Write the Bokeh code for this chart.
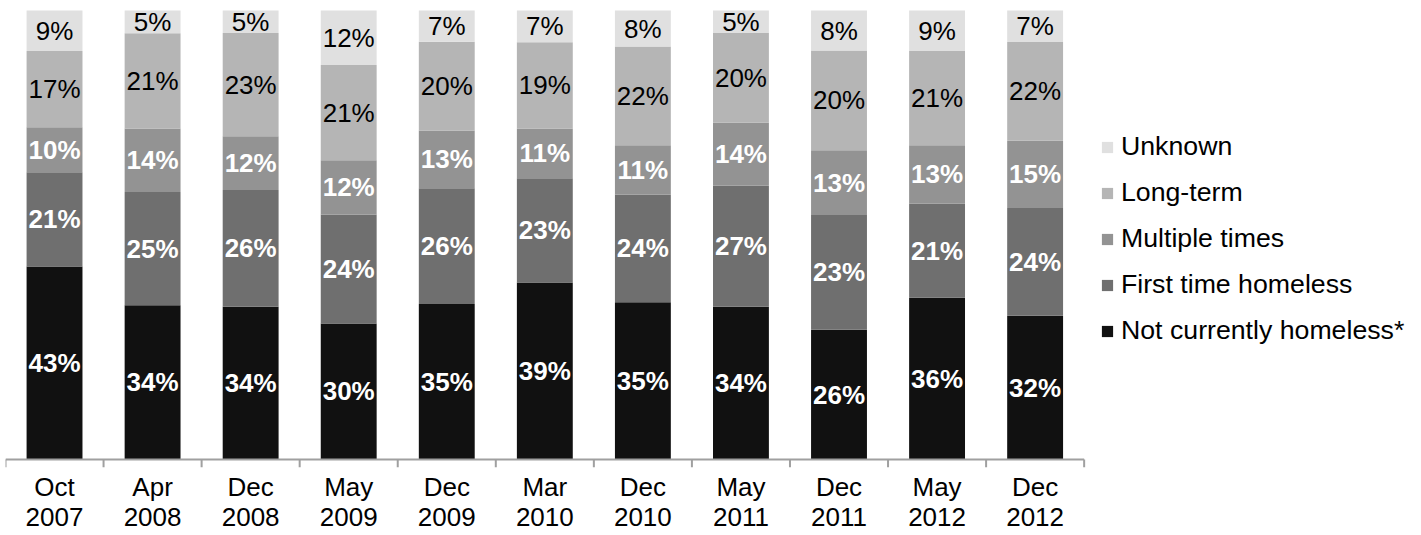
from bokeh.plotting import figure
from bokeh.models import Range1d, Legend, LegendItem, ColumnDataSource, FixedTicker
from bokeh.core.properties import value
from bokeh.embed import file_html
from bokeh.resources import INLINE

categories = ["Oct\n2007", "Apr\n2008", "Dec\n2008", "May\n2009", "Dec\n2009", "Mar\n2010",
              "Dec\n2010", "May\n2011", "Dec\n2011", "May\n2012", "Dec\n2012"]
not_currently = [43, 34, 34, 30, 35, 39, 35, 34, 26, 36, 32]
first_time = [21, 25, 26, 24, 26, 23, 24, 27, 23, 21, 24]
multiple = [10, 14, 12, 12, 13, 11, 11, 14, 13, 13, 15]
long_term = [17, 21, 23, 21, 20, 19, 22, 20, 20, 21, 22]
unknown = [9, 5, 5, 12, 7, 7, 8, 5, 8, 9, 7]

series_names = ["Not currently homeless*", "First time homeless", "Multiple times", "Long-term", "Unknown"]
series = [not_currently, first_time, multiple, long_term, unknown]
colors = ["#111111", "#6f6f6f", "#939393", "#b5b5b5", "#e0e0e0"]
keys = ["s0", "s1", "s2", "s3", "s4"]

FONT = "Liberation Sans"
n = len(categories)
xpos = list(range(n))

# 100% stacked: normalise each bar to its total
totals = [sum(col) for col in zip(*series)]
data = {"x": xpos}
for k, s in zip(keys, series):
    data[k] = [v / t * 100 for v, t in zip(s, totals)]
src = ColumnDataSource(data)

TICK = 1.79
p = figure(width=1420, height=534, output_backend="svg", toolbar_location=None,
           x_range=Range1d(-0.5, 13.93), y_range=Range1d(-TICK, 102.24),
           min_border_left=5, min_border_right=0, min_border_top=0, min_border_bottom=0)
p.outline_line_color = None
p.xgrid.visible = False
p.ygrid.visible = False
p.yaxis.visible = False

renderers = p.vbar_stack(keys, x="x", width=0.57, source=src, color=colors, line_color=None)

# labels
light_x, light_y, light_t = [], [], []
dark_x, dark_y, dark_t = [], [], []
for i in range(n):
    base = 0.0
    for j, k in enumerate(keys):
        h = data[k][i]
        mid = base + h / 2
        base += h
        txt = f"{series[j][i]}%"
        if j < 3:
            light_x.append(xpos[i]); light_y.append(mid); light_t.append(txt)
        else:
            dark_x.append(xpos[i]); dark_y.append(mid); dark_t.append(txt)

p.text(x=light_x, y=light_y, text=light_t, text_color="white", text_font=value(FONT),
       text_font_style="bold", text_font_size="26px", text_align="center", text_baseline="middle")
p.text(x=dark_x, y=dark_y, text=dark_t, text_color="black", text_font=value(FONT),
       text_font_size="26px", text_align="center", text_baseline="middle")

# axis line and boundary ticks between categories
bounds = [i - 0.5 for i in range(n + 1)]
p.segment(x0=[bounds[0]], y0=[0], x1=[bounds[-1]], y1=[0], line_color="#a0a0a0", line_width=2)
p.segment(x0=bounds, y0=[0] * (n + 1), x1=bounds, y1=[-TICK] * (n + 1),
          line_color="#a0a0a0", line_width=2)

ax = p.xaxis[0]
ax.ticker = FixedTicker(ticks=xpos)
ax.major_label_overrides = {x: c for x, c in zip(xpos, categories)}
ax.axis_line_color = None
ax.major_tick_line_color = None
ax.minor_tick_line_color = None
ax.major_tick_out = 0
ax.major_tick_in = 0
ax.major_label_standoff = 4
ax.major_label_text_font = FONT
ax.major_label_text_font_size = "26px"
ax.major_label_text_color = "black"
ax.major_label_text_line_height = 1.0

items = [LegendItem(label=series_names[j], renderers=[renderers[j]]) for j in reversed(range(5))]
legend = Legend(items=items, location=(1095, 121), orientation="vertical",
                glyph_width=14, glyph_height=14, label_standoff=7, label_height=31, spacing=15,
                padding=0, margin=0, border_line_color=None, background_fill_alpha=0,
                label_text_font=FONT, label_text_font_size="26.7px", label_text_color="black")
p.add_layout(legend, "center")

open("out.html", "w").write(file_html(p, INLINE))
